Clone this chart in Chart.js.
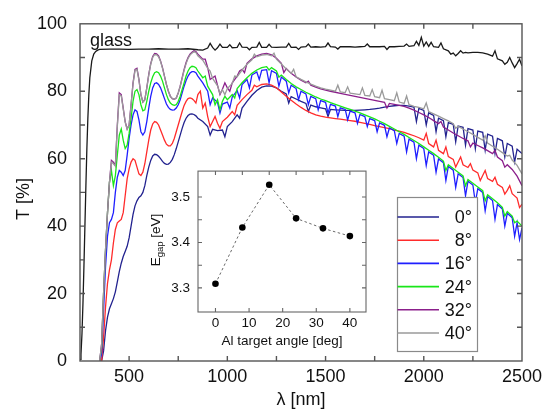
<!DOCTYPE html>
<html><head><meta charset="utf-8">
<script src="https://cdn.jsdelivr.net/npm/chart.js@4.4.0/dist/chart.umd.min.js"></script>
<style>
html,body{margin:0;padding:0;background:#fff;}
#wrap{position:relative;width:551px;height:410px;overflow:hidden;}
#main{position:absolute;left:0;top:0;}
#inset{position:absolute;left:140px;top:155px;}
</style></head><body>
<div id="wrap"><canvas id="main" width="551" height="410"></canvas><canvas id="inset" width="240" height="200"></canvas></div>
<script>
// ---------- wavelength grids (nm) ----------
const lamFine = [350,360,370,380,390,400,410,420,430,440,450,460,470,480,490,500,510,520,530,540,550,560,570,580,590,600,610,620,630,640,650,660,670,680,690,700,710,720,730,740,750,760,770,780,790,800,810,820,830,840,850];
const lamCoarse = [875,900,925,950,975,1000,1025,1050,1075,1100,1125,1150,1175,1200,1225,1250,1275,1300,1325,1350,1375,1400,1425,1450,1475,1500,1525,1550,1575,1600,1625,1650,1675,1700,1725,1750,1775,1800,1825,1850,1875,1900,1925,1950,1975,2000,2025,2050,2075,2100,2125,2150,2175,2200,2225,2250,2275,2300,2325,2350,2375,2400,2425,2450,2475,2500];

// ---------- glass ----------
const glassLamRise = [250,255,260,265,270,275,280,285,290,295,300,310,320,330,340,350,400,450,500,550,600,650,700,750,800,850];
const glassRise = [0.5,2,8,17,28,40,52,63,72,79,84,89,91,91.8,92.2,92.4,92.5,92.5,92.4,92.5,92.5,92.6,92.5,92.5,92.6,92.3];
const glassCoarse = [92.2,92.8,93,92.9,93,93,92.9,93,93.1,93,93,93.1,93,93,93.1,93,93.1,93.1,93,93.1,93.1,93.2,93.1,93.2,93.1,93.2,93.2,93.1,93.2,93.2,93.2,93.1,93.2,93.3,93.2,93.2,93.2,93.3,93.2,93.2,93.3,93.4,93.3,93.5,93.6,93.4,93.3,93.2,93,92.6,92,91.3,91.2,91.3,91.4,91.5,91.5,91.4,91,90.4,89.6,89,88.6,88.4,88.2,87.5];
const glassNoise = [[912.5,94.2],[937.5,92.2],[962.5,94],[1012.5,93.8],[1062.5,94.3],[1112.5,92.3],[1162.5,94.5],[1212.5,93.9],[1312.5,94.2],[1362.5,92.4],[1412.5,94],[1512.5,94.3],[1562.5,92.5],[1712.5,94],[1812.5,92.4],[1912.5,94],[1962.5,94.8],[1987.5,96],[2012.5,94.6],[2037.5,94.5],[2087.5,94.3],[2137.5,91],[2162.5,90.5],[2187.5,92],[2212.5,91.5],[2362.5,92],[2412.5,88],[2437.5,90],[2462.5,87],[2487.5,89.5]];

// ---------- 0 deg ----------
const deg0Fine = [0,0,3,9,13,15.5,17,18.5,20.5,23.5,26.5,29,31,32.5,34,36.5,40,43.5,46,47.5,48.5,49,50,52,55,57.5,59.5,60.8,61.3,61.2,60.7,60,59.2,58.6,58.3,58.4,58.9,59.8,61.2,63,65,67,69,70.7,72,72.8,73.2,73.3,73.1,72.7,72];
const deg0Coarse = [71,69.5,68.7,68.3,68.5,69.5,71,73,75,77,78.8,80.2,81.2,81.6,81.5,81,80,79.2,78.4,77.7,77,76.4,75.9,75.4,75.1,74.8,74.6,74.5,74.4,74.3,74.3,74.3,74.4,74.5,74.6,74.8,75,75.3,75.5,75.7,75.8,75.8,75.6,75.3,74.9,74.3,73.6,72.8,72,71.3,70.7,70.2,69.7,69.3,68.9,68.5,68.2,67.8,67.3,66.7,66,65.3,64.5,63.7,62.8,61.5];
const deg0Noise = [[912.5,67],[987.5,66.5],[1062.5,72],[1312.5,76.5],[1412.5,74],[1512.5,72.5],[1962.5,71],[2012.5,70],[2062.5,68],[2112.5,66.5],[2162.5,65],[2212.5,64],[2262.5,63],[2312.5,62.5],[2362.5,61.5],[2412.5,60.5],[2462.5,59]];

// ---------- 8 deg ----------
const deg8Fine = [0,0,7,16,23,27,30,35,39,41,41.5,42,44,49,54,57,59,60,59.5,57.5,55.5,55,56,58.5,62,65.5,68.5,70.3,71,70.8,70,68.5,67,65.5,64.3,63.8,63.8,64.5,66,68,70,72,74,75.8,77,77.8,78,77.8,77.3,76.5,79];
const deg8Coarse = [75,72.5,71,70.5,71,72.3,74,75.8,77.5,79,80.3,81.3,82,82.2,81.8,81,79.8,78.5,77.3,76.2,75.2,74.3,73.6,73,72.6,72.3,72.1,71.9,71.7,71.5,71.3,71.1,70.8,70.5,70.2,69.8,69.5,69.2,68.9,68.5,68.2,67.8,67.3,66.8,66.2,65.5,64.5,63.5,62.5,61.5,60.6,59.8,59,58.2,57.4,56.6,55.8,55,54.1,53.3,52.4,51.5,50.6,49.6,48.3,46.5];
const deg8Noise = [[862.5,80],[887.5,76.5],[912.5,69.5],[937.5,72.5],[962.5,69],[1037.5,73],[1137.5,81.8],[2012.5,67.5],[2062.5,65.5],[2112.5,63.5],[2162.5,57.5],[2187.5,60.5],[2237.5,58.5],[2287.5,53.5],[2312.5,56.5],[2362.5,54.5],[2412.5,49.5],[2437.5,52],[2487.5,45.5]];

// ---------- 16 deg ----------
const deg16Fine = [0,2,15,28,37,41,42,44,50,54.5,56.5,56,55,56.5,61,66,70,73,74.5,74,71.5,68,67,68,71,75,78.5,81,82.3,82.5,82,81,79.5,77.8,76.2,75.2,74.6,74.4,74.5,75,76,77.5,79.5,81.5,83.2,84.5,85.4,85.8,85.8,85.5,84.5];
const deg16Coarse = [82.5,80,78,76.7,76.2,76.8,78.3,80.2,82,83.5,84.8,85.7,86.2,86.4,86.1,85.3,84.2,83,81.8,80.8,80,79.2,78.5,77.8,77.2,76.7,76.1,75.6,75.1,74.6,74.1,73.6,73.1,72.5,71.9,71.3,70.6,69.9,69.1,68.3,67.5,66.7,65.8,64.9,64,63,62,61,59.9,58.8,57.7,56.6,55.5,54.4,53.3,52.2,51.1,50,48.8,47.6,46.4,45.1,43.8,42.5,41,39.5];
const deg16Noise = [[912.5,76],[962.5,73.5],[1012.5,75],[1062.5,78],[1112.5,81],[1162.5,83.5],[1212.5,82.5],[1262.5,81.5],[1312.5,79.5],[1362.5,77.5],[1412.5,76],[1462.5,74.5],[1512.5,73.5],[1562.5,72.5],[1612.5,71.5],[1662.5,70.5],[1712.5,69.5],[1762.5,68],[1812.5,66.5],[1862.5,64.5],[1912.5,62],[1962.5,60],[2012.5,58],[2062.5,56],[2112.5,53.5],[2162.5,51.5],[2212.5,49],[2262.5,47],[2312.5,44.5],[2362.5,42],[2412.5,40],[2462.5,37],[2487.5,36]];

// ---------- 24 deg ----------
const deg24Fine = [0,4,20,33,44,53,56.5,52,55,61,67,68.8,65.5,63,64,67.5,72,77,80,80.5,79,76,74.2,74.5,77,80,82.5,84.3,85.5,85.8,85.5,84.5,83,81,79,77.5,76.5,76,75.8,76,77,78.5,80.5,82.5,84.5,86,87,87.4,87.3,87,86];
const deg24Coarse = [84,81.5,79,77.5,77,77.5,79,80.8,82.5,84,85.3,86.3,87,87.3,87,86,84.8,83.5,82.3,81.3,80.5,79.7,79,78.3,77.7,77.2,76.6,76.1,75.6,75.1,74.6,74.1,73.6,73,72.4,71.8,71.1,70.4,69.6,68.8,68,67.2,66.3,65.4,64.5,63.5,62.5,61.5,60.4,59.3,58.2,57.1,56,54.9,53.8,52.7,51.6,50.5,49.3,48.1,46.9,45.6,44.3,43,41.5,40];
const deg24Noise = [[887.5,84.5],[937.5,76],[962.5,74.5],[987.5,78.5],[1037.5,78],[1212.5,86.3],[1262.5,84.2],[2112.5,56.5],[2212.5,52],[2312.5,47.5],[2412.5,43],[2462.5,41]];

// ---------- 32 deg ----------
const deg32Fine = [0,5,20,33,44,53,59.5,59,58,70,79.5,79,75,71,68.8,70,76,82.5,86.5,86.8,83.5,79,76.8,77.5,81,85,88.2,90.3,91.2,91.1,90.5,89,87,84.5,82,80,78.5,77.8,77.6,78,79.5,81.5,84,86.5,88.5,90,91,91.6,92,91.8,91];
const deg32Coarse = [89.5,87,84,81.8,80.6,81,82.5,84.5,86.5,88.3,89.6,90.5,91,91.2,90.8,89.8,88.3,86.7,85.3,84.2,83.3,82.5,81.8,81.2,80.7,80.3,80,79.7,79.4,79.1,78.8,78.5,78.2,77.9,77.6,77.3,77,76.7,76.4,76.1,75.8,75.5,75,74.4,73.7,73,72.2,71.3,70.4,69.4,68.5,67.6,66.8,66,65.3,64.6,63.9,63.2,62.4,61.5,60.5,59.4,58.2,56.8,54.8,52];
const deg32Noise = [[887.5,89.5],[912.5,83.5],[937.5,84.5],[962.5,79],[987.5,82.5],[1012.5,80],[1062.5,86],[1087.5,85.5],[1287.5,85.5],[1412.5,83],[1812.5,75],[2087.5,71],[2237.5,63.5],[2362.5,62.5],[2412.5,57.5]];

// ---------- 40 deg ----------
const deg40Fine = [0,5,20,33,44,53,59,58.5,57.8,69.5,79,78.6,74.8,70.8,68.7,70,76,82.2,86.2,86.5,83.3,79,76.8,77.5,81,84.8,88,90,90.9,90.8,90.2,88.8,86.8,84.4,82,80,78.5,77.8,77.6,78,79.5,81.4,83.8,86.2,88.2,89.7,90.7,91.3,91.7,91.5,90.5];
const deg40Coarse = [89.2,86.8,83.8,81.6,80.4,80.8,82.3,84.3,86.3,88,89.3,90.2,90.7,90.9,90.5,89.5,88.1,86.6,85.3,84.3,83.5,82.8,82.1,81.5,81,80.6,80.3,80,79.8,79.6,79.4,79.2,79,78.8,78.6,78.4,78.1,77.8,77.5,77.2,76.8,76.4,76,75.5,75.2,74.8,74,73.3,72.6,71.9,71.2,70.4,69.6,68.8,68,67.2,66.3,65.5,64.6,63.7,62.8,61.8,60.8,59.6,58,55.5];
const deg40Noise = [[912.5,86],[962.5,79.3],[987.5,79],[1037.5,84.5],[1137.5,91],[1237.5,91.3],[1337.5,86.5],[1562.5,81.8],[1612.5,81.3],[1687.5,81],[1737.5,80.5],[1787.5,80.3],[1862.5,79.5],[1912.5,78.6],[2012.5,76.5],[2162.5,69],[2312.5,66.8],[2437.5,61]];

// ---------- labels / ticks ----------
const seriesLabels = ['0°','8°','16°','24°','32°','40°'];
const xTickVals = [500,1000,1500,2000,2500];
const xMinorTicks = [500,750,1000,1250,1500,1750,2000,2250];
const yTickVals = [0,20,40,60,80,100];
const yMinorTicks = [10,20,30,40,50,60,70,80,90];

// ---------- inset data ----------
const insetAngles = [0,8,16,24,32,40];
const insetEgap = [3.309,3.433,3.527,3.453,3.431,3.414];
const insetXTicks = [0,10,20,30,40];
const insetYTicks = [3.3,3.4,3.5];
const insetYMinor = [3.3,3.35,3.4,3.45,3.5];

// ---------- build ----------
function build(lams, vals, extra){
  const pts = lams.map((l,i)=>({x:l,y:vals[i]}));
  (extra||[]).forEach(p=>pts.push({x:p[0],y:p[1]}));
  pts.sort((a,b)=>a.x-b.x);
  return pts;
}
const lamAll = lamFine.concat(lamCoarse);
const colors = ['#22228f','#ff2b2b','#1f1fff','#19e619','#8b1f8b','#9a9a9a'];
const fineSets = [deg0Fine,deg8Fine,deg16Fine,deg24Fine,deg32Fine,deg40Fine];
const coarseSets = [deg0Coarse,deg8Coarse,deg16Coarse,deg24Coarse,deg32Coarse,deg40Coarse];
const noiseSets = [deg0Noise,deg8Noise,deg16Noise,deg24Noise,deg32Noise,deg40Noise];
const drawOrder = [5,4,3,2,1,0];
const datasets = seriesLabels.map((lab,i)=>({
  label: lab,
  data: build(lamAll, fineSets[i].concat(coarseSets[i]), noiseSets[i]),
  borderColor: colors[i], borderWidth: 1.3, pointRadius: 0, tension: 0, fill:false,
  order: drawOrder[i]
}));
datasets.push({
  label:'glass', data: build(glassLamRise.concat(lamCoarse), glassRise.concat(glassCoarse), glassNoise),
  borderColor:'#1a1a1a', borderWidth:1.3, pointRadius:0, tension:0, fill:false, order:0, isGlass:true
});

const FONT = "'Liberation Sans', Arial, sans-serif";

function frameTicks(ctx, a, xs, ys, xb, xt, yl, len, color, lw){
  ctx.save();
  ctx.strokeStyle = color; ctx.lineWidth = lw;
  ctx.beginPath();
  xb.forEach(v=>{const p=xs.getPixelForValue(v); ctx.moveTo(p,a.bottom); ctx.lineTo(p,a.bottom-len);});
  xt.forEach(v=>{const p=xs.getPixelForValue(v); ctx.moveTo(p,a.top); ctx.lineTo(p,a.top+len);});
  yl.forEach(v=>{const p=ys.getPixelForValue(v); ctx.moveTo(a.left,p); ctx.lineTo(a.left+len,p); ctx.moveTo(a.right,p); ctx.lineTo(a.right-len,p);});
  ctx.stroke();
  ctx.strokeRect(a.left, a.top, a.right-a.left, a.bottom-a.top);
  ctx.restore();
}

const mainDecor = {
  id:'mainDecor',
  afterDraw(chart){
    const {ctx, chartArea:a, scales:{x,y}} = chart;
    frameTicks(ctx, a, x, y, xMinorTicks, xMinorTicks, yMinorTicks, 5, '#555', 1.4);
    ctx.save();
    ctx.fillStyle = '#111'; ctx.font = '18px '+FONT; ctx.textAlign='left'; ctx.textBaseline='alphabetic';
    ctx.fillText('glass', x.getPixelForValue(301), y.getPixelForValue(93.4));
    ctx.textAlign='center'; ctx.textBaseline='middle';
    ctx.fillText('λ [nm]', (a.left+a.right)/2, 400);
    ctx.save(); ctx.translate(24, 199); ctx.rotate(-Math.PI/2); ctx.fillText('T [%]', 0, 0); ctx.restore();
    const lx=397.5, ly=197.5, lw=80, lh=154;
    ctx.fillStyle='#fff'; ctx.fillRect(lx,ly,lw,lh);
    ctx.strokeStyle='#8a8a8a'; ctx.lineWidth=1.2; ctx.strokeRect(lx,ly,lw,lh);
    chart.data.datasets.forEach((ds,i)=>{
      if(ds.isGlass) return;
      const yy = 217 + i*23.2;
      ctx.strokeStyle = ds.borderColor; ctx.lineWidth = 1.6;
      ctx.beginPath(); ctx.moveTo(lx, yy); ctx.lineTo(439, yy); ctx.stroke();
      ctx.fillStyle='#111'; ctx.font='18px '+FONT; ctx.textAlign='right'; ctx.textBaseline='middle';
      ctx.fillText(ds.label, 472, yy+1);
    });
    ctx.restore();
  }
};

new Chart(document.getElementById('main'), {
  type:'line',
  data:{datasets},
  options:{
    responsive:false, animation:false, devicePixelRatio:1,
    layout:{autoPadding:false, padding:{left:0, top:20, right:29, bottom:0}},
    plugins:{legend:{display:false}, tooltip:{enabled:false}},
    scales:{
      x:{type:'linear', min:250, max:2500,
         afterBuildTicks:s=>{s.ticks = xTickVals.map(v=>({value:v}));},
         afterFit:s=>{s.height=49;},
         grid:{display:false, drawTicks:false}, border:{display:false},
         ticks:{font:{size:18, family:FONT}, color:'#111', padding:5, maxRotation:0, autoSkip:false, callback:v=>String(v)}},
      y:{type:'linear', min:0, max:100,
         afterBuildTicks:s=>{s.ticks = yTickVals.map(v=>({value:v}));},
         afterFit:s=>{s.width=80;},
         grid:{display:false, drawTicks:false}, border:{display:false},
         ticks:{font:{size:18, family:FONT}, color:'#111', padding:13, callback:v=>String(v)}}
    }
  },
  plugins:[mainDecor]
});

// ---------- inset ----------
const insetDecor = {
  id:'insetDecor',
  beforeDatasetsDraw(chart){
    const {ctx, chartArea:a} = chart;
    ctx.save(); ctx.fillStyle='#fff'; ctx.fillRect(a.left,a.top,a.right-a.left,a.bottom-a.top); ctx.restore();
  },
  afterDraw(chart){
    const {ctx, chartArea:a, scales:{x,y}} = chart;
    frameTicks(ctx, a, x, y, insetXTicks, insetAngles, insetYMinor, 4, '#666', 1.1);
    ctx.save();
    ctx.fillStyle='#111'; ctx.font='13.5px '+FONT; ctx.textAlign='center'; ctx.textBaseline='middle';
    ctx.fillText('Al target angle [deg]', (a.left+a.right)/2, 186.5);
    ctx.translate(15, 85); ctx.rotate(-Math.PI/2);
    ctx.textBaseline='alphabetic'; ctx.textAlign='left';
    const f1='13.5px '+FONT, f2='9.5px '+FONT;
    ctx.font=f1; const wE=ctx.measureText('E').width; const wT=ctx.measureText(' [eV]').width;
    ctx.font=f2; const wG=ctx.measureText('gap').width;
    let sx = -(wE+wG+wT)/2; const by = 5;
    ctx.font=f1; ctx.fillText('E', sx, by); sx+=wE;
    ctx.font=f2; ctx.fillText('gap', sx, by+3); sx+=wG;
    ctx.font=f1; ctx.fillText(' [eV]', sx, by);
    ctx.restore();
  }
};

new Chart(document.getElementById('inset'), {
  type:'line',
  data:{datasets:[{
    data: insetAngles.map((a,i)=>({x:a, y:insetEgap[i]})),
    borderColor:'#6a6a6a', borderWidth:1, borderDash:[2.5,2.5], tension:0, fill:false,
    pointRadius:3.3, pointBackgroundColor:'#000', pointBorderColor:'#000', pointBorderWidth:0
  }]},
  options:{
    responsive:false, animation:false, devicePixelRatio:1,
    layout:{autoPadding:false, padding:{left:0, top:12, right:14, bottom:0}},
    plugins:{legend:{display:false}, tooltip:{enabled:false}},
    scales:{
      x:{type:'linear', min:-5.2, max:44.8,
         afterBuildTicks:s=>{s.ticks = insetXTicks.map(v=>({value:v}));},
         afterFit:s=>{s.height=43;},
         grid:{display:false, drawTicks:false}, border:{display:false},
         ticks:{font:{size:13.5, family:FONT}, color:'#111', padding:3, maxRotation:0, autoSkip:false, callback:v=>String(v)}},
      y:{type:'linear', min:3.247, max:3.557,
         afterBuildTicks:s=>{s.ticks = insetYTicks.map(v=>({value:v}));},
         afterFit:s=>{s.width=58;},
         grid:{display:false, drawTicks:false}, border:{display:false},
         ticks:{font:{size:13.5, family:FONT}, color:'#111', padding:8, callback:v=>v.toFixed(1)}}
    }
  },
  plugins:[insetDecor]
});
</script>
</body></html>
